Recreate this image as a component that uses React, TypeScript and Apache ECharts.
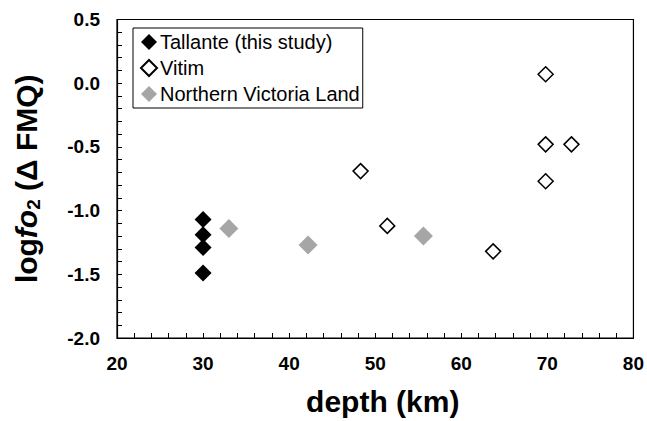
import React, { useEffect, useRef } from "react";
import * as echarts from "echarts";

const tallante: [number, number][] = [
  [30, -1.07],
  [30, -1.19],
  [30, -1.29],
  [30, -1.49],
];
const vitim: [number, number][] = [
  [48.3, -0.69],
  [51.4, -1.12],
  [63.7, -1.32],
  [69.8, 0.07],
  [69.8, -0.48],
  [72.8, -0.48],
  [69.8, -0.77],
];
const nvl: [number, number][] = [
  [33, -1.14],
  [42.2, -1.27],
  [55.6, -1.2],
];
const seriesNames = ["Tallante (this study)", "Vitim", "Northern Victoria Land"];

const FONT = 'Arial, "Liberation Sans", sans-serif';

export default function App() {
  const ref = useRef<HTMLDivElement>(null);
  useEffect(() => {
    document.body.style.margin = "0";
    const chart = echarts.init(ref.current!, null, { renderer: "svg" });
    chart.setOption({
      animation: false,
      backgroundColor: "#fff",
      textStyle: { fontFamily: FONT },
      grid: {
        left: 117,
        top: 19.5,
        right: 10,
        bottom: 76,
        show: true,
        borderColor: "#000",
        borderWidth: 1.2,
      },
      legend: {
        orient: "vertical",
        left: 133,
        top: 28,
        padding: [4, 3, 4, 7],
        itemGap: 6,
        itemWidth: 16,
        itemHeight: 16,
        borderColor: "#000",
        borderWidth: 1,
        backgroundColor: "#fff",
        textStyle: { fontSize: 20, fontFamily: FONT, color: "#000", padding: [0, 0, 0, -2] },
        data: seriesNames,
      },
      xAxis: {
        type: "value",
        min: 20,
        max: 80,
        interval: 10,
        name: "depth (km)",
        nameLocation: "middle",
        nameGap: 48,
        nameTextStyle: {
          fontSize: 30,
          fontWeight: "bold",
          color: "#000",
          fontFamily: FONT,
          padding: [0, 0, 0, 15],
        },
        axisLine: { show: true, onZero: false, lineStyle: { color: "#000", width: 1.2 } },
        axisTick: { show: true, inside: true, length: 5, lineStyle: { color: "#000" } },
        minorTick: { show: true, splitNumber: 5, length: 5, lineStyle: { color: "#000" } },
        splitLine: { show: false },
        axisLabel: {
          fontSize: 19,
          fontWeight: "bold",
          color: "#000",
          fontFamily: FONT,
          margin: 16,
        },
      },
      yAxis: {
        type: "value",
        min: -2,
        max: 0.5,
        interval: 0.5,
        name: "{a|log}{b|fo}{c|2}{a| (Δ FMQ)}",
        nameLocation: "middle",
        nameRotate: 90,
        nameGap: 74,
        nameTextStyle: {
          color: "#000",
          rich: {
            a: { fontSize: 30, fontWeight: "bold", fontFamily: FONT, color: "#000", lineHeight: 34 },
            b: {
              fontSize: 30,
              fontWeight: "bold",
              fontStyle: "italic",
              fontFamily: FONT,
              color: "#000",
              lineHeight: 34,
            },
            c: {
              fontSize: 19,
              fontWeight: "bold",
              fontFamily: FONT,
              color: "#000",
              lineHeight: 34,
              verticalAlign: "bottom",
              padding: [12, 0, 0, 0],
            },
          },
        },
        axisLine: { show: true, onZero: false, lineStyle: { color: "#000", width: 1.2 } },
        axisTick: { show: true, inside: true, length: 5, lineStyle: { color: "#000" } },
        minorTick: { show: true, splitNumber: 5, length: 5, lineStyle: { color: "#000" } },
        splitLine: { show: false },
        axisLabel: {
          fontSize: 19,
          fontWeight: "bold",
          color: "#000",
          fontFamily: FONT,
          margin: 17,
          formatter: (v: number) => v.toFixed(1),
        },
      },
      series: [
        {
          name: seriesNames[0],
          type: "scatter",
          symbol: "diamond",
          symbolSize: 17,
          data: tallante,
          itemStyle: { color: "#000", opacity: 1 },
          z: 3,
        },
        {
          name: seriesNames[1],
          type: "scatter",
          symbol: "diamond",
          symbolSize: 15,
          data: vitim,
          itemStyle: { color: "#fff", borderColor: "#000", borderWidth: 1.5, opacity: 1 },
          z: 2,
        },
        {
          name: seriesNames[2],
          type: "scatter",
          symbol: "diamond",
          symbolSize: 19,
          data: nvl,
          itemStyle: { color: "#a6a6a6", opacity: 1 },
          z: 2,
        },
      ],
    });
    return () => chart.dispose();
  }, []);
  return (
    <div
      ref={ref}
      style={{ position: "fixed", left: 0, top: 0, width: 647, height: 421 }}
    />
  );
}
